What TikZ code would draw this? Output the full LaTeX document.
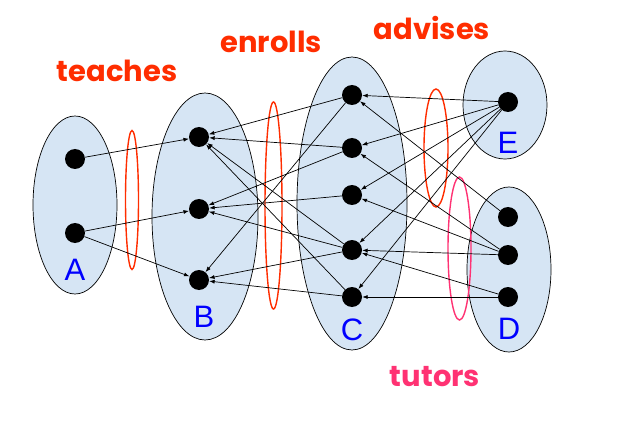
\documentclass[tikz,border=0pt]{standalone}
\usepackage{fontspec}
\setmainfont{Liberation Sans}
\newfontfamily\relfont{Poppins}
\usetikzlibrary{arrows.meta}
\definecolor{setblue}{RGB}{214,229,244}
\definecolor{relred}{RGB}{255,45,0}
\definecolor{relpink}{RGB}{255,50,115}
\definecolor{letterblue}{RGB}{0,0,255}
\tikzstyle{dot}=[shape=circle,fill=black,inner sep=0pt,minimum size=20pt]
\tikzstyle{link}=[-{Latex[length=5.5pt,width=4pt]},line width=0.7pt]
\tikzstyle{setshape}=[draw=black,fill=setblue,line width=0.7pt]
\tikzstyle{rel}=[line width=1.4pt]
\tikzstyle{setname}=[text=letterblue,font=\fontsize{31}{31}\selectfont]
\tikzstyle{relname}=[font=\relfont\bfseries\fontsize{29}{29}\selectfont,anchor=base]

\begin{document}
\begin{tikzpicture}[x=1pt,y=-1pt]
    \useasboundingbox (0,0) rectangle (627,433);
    % sets
    \draw[setshape] (75,205) ellipse (42pt and 89pt);
    \draw[setshape] (205,216.5) ellipse (53pt and 123.5pt);
    \draw[setshape] (352,203.5) ellipse (55pt and 146.5pt);
    \draw[setshape] (505,105) ellipse (42pt and 54pt);
    \draw[setshape] (509,269.5) ellipse (42pt and 82.5pt);
    % relationships
    \draw[rel,relred] (132,200) ellipse (6.5pt and 69.5pt);
    \draw[rel,relred] (273.5,205.5) ellipse (8.5pt and 103.5pt);
    \draw[rel,relred] (436,148) ellipse (12pt and 59pt);
    \draw[rel,relpink] (459.5,248.5) ellipse (11.5pt and 71.5pt);
    \node[relname,text=relred] (teaches) at (117,82) {teaches};
    \node[relname,text=relred] (enrolls) at (271,53) {enrolls};
    \node[relname,text=relred] (advises) at (432,40) {advises};
    \node[relname,text=relpink] (tutors) at (435,386) {tutors};
    \node[setname] (A) at (75,270) {A};
    \node[setname] (B) at (204,317) {B};
    \node[setname] (C) at (352,330) {C};
    \node[setname] (E) at (508,143) {E};
    \node[setname] (D) at (509,329) {D};
    % elements
    \node[dot] (B1) at (199,137) {};
    \node[dot] (B2) at (199,209) {};
    \node[dot] (B3) at (199,280) {};
    \node[dot] (A1) at (75,159) {}
        edge[link] (B1)
    ;
    \node[dot] (A2) at (75,233) {}
        edge[link] (B2)
        edge[link] (B3)
    ;
    \node[dot] (C1) at (352,95) {}
        edge[link] (B1)
        edge[link] (B3)
    ;
    \node[dot] (C2) at (352,148) {}
        edge[link] (B1)
        edge[link] (B2)
    ;
    \node[dot] (C3) at (352,195) {}
        edge[link] (B2)
    ;
    \node[dot] (C4) at (352,250) {}
        edge[link] (B1)
        edge[link] (B2)
        edge[link] (B3)
    ;
    \node[dot] (C5) at (352,297) {}
        edge[link] (B1)
        edge[link] (B3)
    ;
    \node[dot] (E1) at (508,102) {}
        edge[link] (C1)
        edge[link] (C2)
        edge[link] (C3)
        edge[link] (C4)
        edge[link] (C5)
    ;
    \node[dot] (D1) at (508,217) {}
        edge[link] (C1)
    ;
    \node[dot] (D2) at (508,255) {}
        edge[link] (C2)
        edge[link] (C3)
        edge[link] (C4)
    ;
    \node[dot] (D3) at (508,297) {}
        edge[link] (C4)
        edge[link] (C5)
    ;
\end{tikzpicture}
\end{document}
